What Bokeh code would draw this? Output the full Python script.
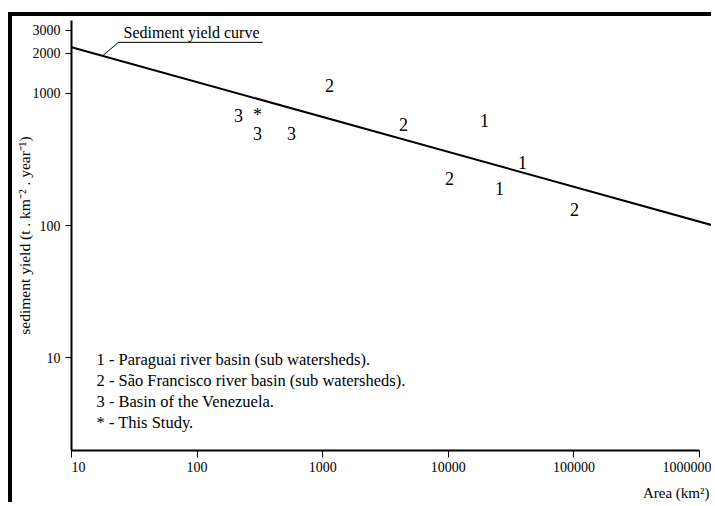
import numpy as np
from bokeh.plotting import figure
from bokeh.models import FixedTicker, Label, Range1d, Title
from bokeh.core.properties import value
from bokeh.embed import file_html
from bokeh.resources import INLINE

# ---------------- data ----------------
paraguai_area = [19400, 39000, 25600]
paraguai_yield = [625, 301, 192]
saofrancisco_area = [1130, 4400, 10200, 101000]
saofrancisco_yield = [1150, 583, 228, 133]
venezuela_area = [214, 303, 565]
venezuela_yield = [682, 499, 499]
study_area = [303]
study_yield = [682]
curve_area = [10, 1290000]
curve_yield = [2230, 100]

x_ticks = [10, 100, 1000, 10000, 100000, 1000000]
x_tick_labels = ["\u00a0\u00a0\u00a0\u00a010", "100", "1000", "10000", "100000", "1000000"]
y_ticks = [10, 100, 1000, 2000, 3000]
y_tick_labels = ["10", "100", "1000", "2000", "3000"]

legend_lines = [
    "1 - Paraguai river basin (sub watersheds).",
    "2 - São Francisco river basin (sub watersheds).",
    "3 - Basin of the Venezuela.",
    "* - This Study.",
]

FONT = "Liberation Serif"

p = figure(width=703, height=490,
           x_axis_type="log", y_axis_type="log",
           x_range=Range1d(10, 1.34e6), y_range=Range1d(1.99, 3550),
           output_backend="svg", toolbar_location=None,
           min_border_left=59, min_border_right=0,
           min_border_top=4, min_border_bottom=55,
           background_fill_color="white", border_fill_color="white",
           outline_line_color=None,
           styles={"border-left": "4px solid black",
                   "border-top": "4px solid black",
                   "position": "relative", "left": "8px", "top": "12px"})
p.grid.visible = False

# axes
for ax in (p.xaxis[0], p.yaxis[0]):
    ax.axis_line_width = 2
    ax.axis_line_color = "black"
    ax.major_tick_line_color = "black"
    ax.major_tick_line_width = 1
    ax.major_tick_in = 0
    ax.minor_tick_line_color = None
    ax.major_label_text_font = FONT
    ax.major_label_text_font_size = "14px"
    ax.major_label_text_color = "black"

p.xaxis.ticker = FixedTicker(ticks=x_ticks)
p.xaxis.major_label_overrides = {t: l for t, l in zip(x_ticks, x_tick_labels)}
p.xaxis.bounds = (x_ticks[0], x_ticks[-1])
p.xaxis.major_tick_out = 7
p.xaxis.major_label_standoff = 2

p.yaxis.ticker = FixedTicker(ticks=y_ticks)
p.yaxis.major_label_overrides = {t: l for t, l in zip(y_ticks, y_tick_labels)}
p.yaxis.major_tick_out = 6
p.yaxis.major_label_standoff = 5
p.yaxis.axis_label = "sediment yield (t . km\u207b\u00b2 . year\u207b\u00b9)"
p.yaxis.axis_label_text_font = FONT
p.yaxis.axis_label_text_font_size = "15.5px"
p.yaxis.axis_label_text_font_style = "normal"
p.yaxis.axis_label_text_color = "black"
p.yaxis.axis_label_standoff = -3

# sediment yield curve
p.line(curve_area, curve_yield, line_color="black", line_width=2)

# points as numbered text marks
num_style = dict(text_font=value(FONT), text_font_size="18px", text_color="black",
                 text_align="center", text_baseline="middle")
p.text(x=paraguai_area, y=paraguai_yield, text=["1"] * len(paraguai_area), **num_style)
p.text(x=saofrancisco_area, y=saofrancisco_yield, text=["2"] * len(saofrancisco_area), **num_style)
p.text(x=venezuela_area, y=venezuela_yield, text=["3"] * len(venezuela_area), **num_style)
p.text(x=study_area, y=study_yield, text=["*"] * len(study_area), **num_style)

# callout "Sediment yield curve"
anchor_area = 17.65
anchor_yield = 10 ** np.interp(np.log10(anchor_area), np.log10(curve_area), np.log10(curve_yield))
elbow_area, under_yield, under_end = 23.7, 2427, 332
p.line([anchor_area, elbow_area, under_end], [anchor_yield, under_yield, under_yield],
       line_color="black", line_width=1)
p.add_layout(Label(x=elbow_area, y=under_yield, x_offset=5, y_offset=1,
                   text="Sediment yield curve", text_font=FONT, text_font_size="16px",
                   text_color="black", text_baseline="bottom", text_align="left"))

# legend text block (screen units relative to the plot frame)
for i, line in enumerate(legend_lines):
    p.add_layout(Label(x=25, y=91 - i * 21, x_units="screen", y_units="screen",
                       text=line, text_font=FONT, text_font_size="16.5px",
                       text_color="black", text_baseline="middle", text_align="left"))

# x axis title at bottom right, below the axis
p.add_layout(Title(text="Area (km\u00b2)", align="right", offset=6, standoff=11,
                   text_font=FONT, text_font_size="15px", text_font_style="normal",
                   text_color="black"), "below")

open("out.html", "w").write(file_html(p, INLINE))
